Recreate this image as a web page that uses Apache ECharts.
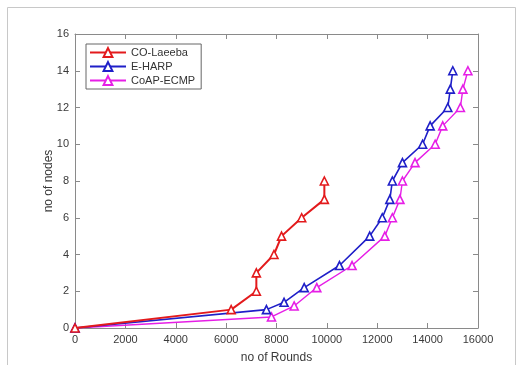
<!DOCTYPE html>
<html>
<head>
<meta charset="utf-8">
<script src="https://cdn.jsdelivr.net/npm/echarts@6/dist/echarts.min.js"></script>
<style>
  html, body { margin: 0; padding: 0; background: #fff; }
  #chart { width: 532px; height: 365px; }
</style>
</head>
<body>
<div id="chart"></div>
<script>
// values: [rounds, nodes]
const coLaeeba = [[0, 0], [6200, 1], [7200, 2], [7200, 3], [7900, 4], [8200, 5], [9000, 6], [9900, 7], [9900, 8]];
const eHarp = [[0, 0], [7600, 1], [8300, 1.4], [9100, 2.2], [10500, 3.4], [11700, 5], [12200, 6], [12500, 7], [12600, 8],
  [13000, 9], [13800, 10], [14100, 11], [14800, 12], [14900, 13], [15000, 14]];
const coapEcmp = [[0, 0], [7800, 0.6], [8700, 1.2], [9600, 2.2], [11000, 3.4], [12300, 5], [12600, 6], [12900, 7], [13000, 8],
  [13500, 9], [14300, 10], [14600, 11], [15300, 12], [15400, 13], [15600, 14]];

const seriesNames = ['CO-Laeeba', 'E-HARP', 'CoAP-ECMP'];
const seriesColors = ['#e31a1c', '#1f1fc8', '#e61ee6'];
const seriesWidths = [2, 1.6, 1.4];

const chart = echarts.init(document.getElementById('chart'));
const font = 'Liberation Sans, Arial, sans-serif';

// each axis gets its own objects so nothing is shared between them
const axisLine = () => ({ show: true, onZero: false, lineStyle: { color: '#8a8a8a', width: 1 } });
const tickIn = () => ({ show: true, inside: true, length: 5, lineStyle: { color: '#8a8a8a' } });
const lbl = () => ({ color: '#3a3a3a', fontSize: 11, fontFamily: font, margin: 6, formatter: v => String(v) });

const option = {
  animation: false,
  backgroundColor: '#fff',
  graphic: [{
    type: 'rect',
    shape: { x: 7.5, y: 7.5, width: 508, height: 370 },
    style: { fill: 'none', stroke: '#c8c8c8', lineWidth: 1 },
    silent: true
  }],
  grid: { left: 75, right: 54, top: 34, bottom: 37, outerBoundsMode: 'none' },
  legend: {
    left: 86, top: 44,
    orient: 'vertical',
    itemGap: 3,
    itemWidth: 36, itemHeight: 11,
    padding: [3, 6, 3, 3],
    borderColor: '#666', borderWidth: 1, borderRadius: 0,
    backgroundColor: '#fff',
    textStyle: { color: '#333', fontSize: 11, fontFamily: font },
    data: seriesNames
  },
  xAxis: [{
    type: 'value', min: 0, max: 16000, interval: 2000,
    name: 'no of Rounds', nameLocation: 'middle', nameGap: 24, nameMoveOverlap: false,
    nameTextStyle: { color: '#3a3a3a', fontSize: 12, fontFamily: font },
    axisLine: axisLine(), axisTick: tickIn(), axisLabel: lbl(),
    splitLine: { show: false }
  }, {
    type: 'value', min: 0, max: 16000, interval: 2000, position: 'top',
    axisLine: axisLine(), axisTick: tickIn(), axisLabel: { show: false }, splitLine: { show: false }
  }],
  yAxis: [{
    type: 'value', min: 0, max: 16, interval: 2,
    name: 'no of nodes', nameLocation: 'middle', nameGap: 20, nameMoveOverlap: false,
    nameTextStyle: { color: '#3a3a3a', fontSize: 12, fontFamily: font },
    axisLine: axisLine(), axisTick: tickIn(), axisLabel: lbl(),
    splitLine: { show: false }
  }, {
    type: 'value', min: 0, max: 16, interval: 2, position: 'right',
    axisLine: axisLine(), axisTick: tickIn(), axisLabel: { show: false }, splitLine: { show: false }
  }],
  series: [coLaeeba, eHarp, coapEcmp].map((d, i) => ({
    name: seriesNames[i],
    type: 'line',
    data: d,
    symbol: 'triangle',
    symbolSize: 8,
    showAllSymbol: true,
    itemStyle: { color: '#fff', borderColor: seriesColors[i], borderWidth: 1.6 },
    lineStyle: { color: seriesColors[i], width: seriesWidths[i] },
    z: 3 - i
  }))
};

chart.setOption(option);
</script>
</body>
</html>
